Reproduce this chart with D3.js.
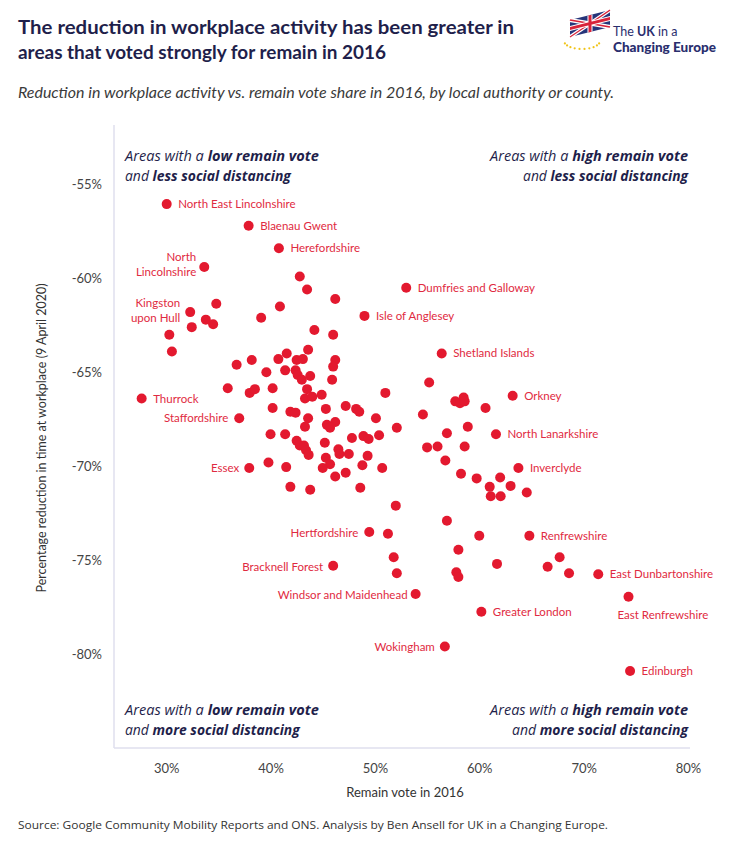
<!DOCTYPE html>
<html>
<head>
<meta charset="utf-8">
<script src="https://cdn.jsdelivr.net/npm/d3@7"></script>
<style>
  body { margin: 0; background: #fff; }
  svg { display: block; }
</style>
</head>
<body>
<div id="viz"></div>
<script>
// labelled areas: remain vote (%) and change in workplace time (%)
const labelNames = [
  "North East Lincolnshire", "Blaenau Gwent", "Herefordshire", "North Lincolnshire",
  "Dumfries and Galloway", "Isle of Anglesey", "Kingston upon Hull", "Shetland Islands",
  "Thurrock", "Orkney", "Staffordshire", "North Lanarkshire", "Essex", "Inverclyde",
  "Hertfordshire", "Renfrewshire", "Bracknell Forest", "East Dunbartonshire",
  "Windsor and Maidenhead", "East Renfrewshire", "Greater London", "Wokingham", "Edinburgh"
];
const labelRemain = [
  30.05, 37.9, 40.8, 33.65, 53.0, 49.0, 32.3, 56.4, 27.65, 63.2, 37.0, 61.6,
  37.96, 63.75, 49.46, 64.8, 46.0, 71.4, 53.9, 74.3, 60.2, 56.7, 74.45
];
const labelChange = [
  -56.05, -57.2, -58.4, -59.4, -60.5, -62.0, -61.8, -64.0, -66.4, -66.25, -67.45, -68.3,
  -70.1, -70.1, -73.5, -73.7, -75.3, -75.75, -76.8, -76.95, -77.75, -79.6, -80.9
];

// other areas (not labelled)
const otherRemain = [
  42.8, 43.5, 46.2, 34.8, 40.9, 39.1, 33.8, 34.5, 32.45, 30.3, 44.2, 46.0, 30.55, 41.55,
  43.6, 38.2, 40.75, 42.5, 43.1, 46.2, 46.0, 36.75, 39.6, 41.4, 42.4, 42.6, 43.0, 43.8,
  45.9, 35.9, 38.0, 38.5, 40.2, 43.5, 43.3, 44.0, 44.9, 51.0, 40.2, 41.9, 42.4, 43.6,
  43.3, 45.3, 47.2, 48.2, 48.5, 50.1, 52.1, 45.4, 46.2, 45.7, 40.0, 41.4, 42.5, 42.8,
  43.2, 43.4, 43.65, 45.2, 47.8, 48.9, 49.4, 50.4, 46.5, 46.6, 47.5, 49.3, 45.3, 45.7,
  45.0, 48.8, 50.7, 39.8, 41.5, 46.2, 47.2, 41.9, 43.8, 48.6, 52.0, 55.2, 57.7, 58.15,
  58.5, 58.6, 60.6, 54.6, 58.9, 56.9, 55.0, 56.0, 58.6, 56.75, 58.25, 59.75, 62.0, 61.0,
  63.0, 61.1, 62.05, 64.55, 56.9, 60.0, 58.0, 61.7, 57.8, 58.0, 67.7, 66.55, 68.6, 51.25,
  51.8, 52.1
];
const otherChange = [
  -59.9, -60.6, -61.1, -61.35, -61.5, -62.1, -62.2, -62.45, -62.6, -63.0, -62.75, -63.0, -63.9, -64.0,
  -63.8, -64.35, -64.3, -64.35, -64.3, -64.35, -64.7, -64.6, -65.0, -64.9, -64.9, -65.15, -65.4, -65.2,
  -65.4, -65.85, -66.1, -65.9, -65.85, -65.9, -66.4, -66.3, -66.2, -66.1, -66.9, -67.1, -67.15, -67.45,
  -67.9, -66.95, -66.8, -66.95, -67.1, -67.45, -67.95, -67.8, -67.65, -67.95, -68.3, -68.3, -68.65, -68.9,
  -68.9, -69.15, -69.4, -68.75, -68.5, -68.4, -68.55, -68.35, -69.1, -69.35, -69.35, -69.45, -69.55, -69.9,
  -70.1, -69.95, -70.1, -69.8, -70.05, -70.55, -70.35, -71.1, -71.25, -71.15, -72.1, -65.55, -66.55, -66.65,
  -66.35, -66.55, -66.9, -67.25, -67.9, -68.25, -69.0, -68.95, -68.95, -69.7, -70.4, -70.65, -70.6, -71.1,
  -71.05, -71.6, -71.6, -71.4, -72.9, -73.7, -74.45, -75.2, -75.65, -75.9, -74.85, -75.35, -75.7, -73.6,
  -74.85, -75.7
];

const xTicks = [30, 40, 50, 60, 70, 80];
const yTicks = [-55, -60, -65, -70, -75, -80];

const config = {
  width: 734,
  height: 850,
  left: 114,
  right: 688,
  top: 128,
  bottom: 748,
  dotR: 5,
  red: "#e3192f",
  labelRed: "#df2a41",
  navy: "#1f1f4b",
  axisColor: "#dfdfee",
  tickColor: "#444",
};

// where each label sits relative to its dot: [dx, dy, anchor]
const labelPlacement = {
  "North Lincolnshire": [-8, 0, "end"],
  "Kingston upon Hull": [-10, 0, "end"],
  "Staffordshire": [-11, 4, "end"],
  "Essex": [-10, 4, "end"],
  "Hertfordshire": [-11, 5, "end"],
  "Bracknell Forest": [-10, 5, "end"],
  "Windsor and Maidenhead": [-8, 5, "end"],
  "Wokingham": [-10, 4, "end"],
  "East Renfrewshire": [-11, 22, "start"],
};
const multiLine = {
  "North Lincolnshire": [["North", -6], ["Lincolnshire", 9]],
  "Kingston upon Hull": [["Kingston", -5], ["upon Hull", 10]],
};

const svg = d3
  .select("#viz")
  .append("svg")
  .attr("width", config.width)
  .attr("height", config.height)
  .style("font-family", "Lato, 'Open Sans', sans-serif");

const fit = (sel, w) => {
  sel.attr("textLength", w).attr("lengthAdjust", "spacingAndGlyphs");
  return sel;
};

// title + subtitle
fit(
  svg.append("text").attr("x", 18).attr("y", 34)
    .attr("font-size", 19.5).attr("font-weight", 700).attr("fill", config.navy)
    .text("The reduction in workplace activity has been greater in"),
  496
);
fit(
  svg.append("text").attr("x", 18).attr("y", 59)
    .attr("font-size", 19.5).attr("font-weight", 700).attr("fill", config.navy)
    .text("areas that voted strongly for remain in 2016"),
  368
);
fit(
  svg.append("text").attr("x", 18).attr("y", 98)
    .attr("font-size", 15).attr("font-style", "italic").attr("fill", "#3a3a3a")
    .text("Reduction in workplace activity vs. remain vote share in 2016, by local authority or county."),
  596
);

// logo
const logo = svg.append("g").attr("transform", "translate(566,14)");
const flag = logo.append("g").attr("transform", "translate(4,6) skewY(-14)");
flag.append("rect").attr("width", 40).attr("height", 17).attr("fill", "#26357a");
flag.append("path").attr("d", "M0,0L40,17M40,0L0,17").attr("stroke", "#fff").attr("stroke-width", 4);
flag.append("path").attr("d", "M0,0L40,17M40,0L0,17").attr("stroke", "#d8233a").attr("stroke-width", 1.5);
flag.append("path").attr("d", "M20,0V17M0,8.5H40").attr("stroke", "#fff").attr("stroke-width", 5);
flag.append("path").attr("d", "M20,0V17M0,8.5H40").attr("stroke", "#d8233a").attr("stroke-width", 3);
d3.range(10).forEach((i) => {
  const a = Math.PI * (0.1 + (i / 9) * 0.8);
  logo.append("circle")
    .attr("cx", 16 + Math.cos(a) * 18)
    .attr("cy", 27 + Math.sin(a) * 8)
    .attr("r", 1.1)
    .attr("fill", "#f0c419");
});
const logoText = logo.append("text").attr("x", 47).attr("y", 22)
  .attr("font-size", 12.5).attr("fill", "#2a2e6e");
logoText.append("tspan").text("The ");
logoText.append("tspan").attr("font-weight", 700).text("UK");
logoText.append("tspan").text(" in a");
fit(
  logo.append("text").attr("x", 47).attr("y", 38)
    .attr("font-size", 13).attr("font-weight", 900).attr("fill", "#2a2e6e")
    .text("Changing Europe"),
  103
);

// scales
const x = d3.scaleLinear().domain([25, 80]).range([config.left, config.right]);
const y = d3.scaleLinear().domain([-85, -52]).range([config.bottom, config.top]);

// axes
const yAxis = svg.append("g")
  .attr("transform", `translate(${config.left},0)`)
  .call(d3.axisLeft(y).tickValues(yTicks).tickSize(0).tickSizeOuter(0).tickPadding(12)
    .tickFormat((d) => d + "%"));
const xAxis = svg.append("g")
  .attr("transform", `translate(0,${config.bottom})`)
  .call(d3.axisBottom(x).tickValues(xTicks).tickSize(0).tickSizeOuter(0).tickPadding(16)
    .tickFormat((d) => d + "%"));
[xAxis, yAxis].forEach((g) => {
  g.select(".domain").attr("stroke", config.axisColor).attr("stroke-width", 1.5);
  g.selectAll("text").attr("font-family", "Lato, sans-serif").attr("font-size", 13)
    .attr("fill", config.tickColor);
});
yAxis.select(".domain").attr("d", `M0,125V${config.bottom}`);
xAxis.select(".domain").attr("d", `M${config.left},0H690`);

svg.append("text")
  .attr("x", 405).attr("y", 797)
  .attr("text-anchor", "middle").attr("font-size", 13).attr("fill", "#333")
  .text("Remain vote in 2016");
svg.append("text")
  .attr("transform", "translate(46,438) rotate(-90)")
  .attr("text-anchor", "middle").attr("font-size", 12.5).attr("fill", "#333")
  .text("Percentage reduction in time at workplace (9 April 2020)");

// quadrant notes: font size scaled so the line takes the same width as in the original
const quadrant = (xPos, yPos, anchor, parts, width) => {
  const t = svg.append("text").attr("x", xPos).attr("y", yPos)
    .attr("text-anchor", anchor).attr("font-size", 15).attr("font-style", "italic")
    .attr("font-family", "'Open Sans', sans-serif")
    .attr("fill", config.navy);
  parts.forEach(([s, bold]) => {
    t.append("tspan").attr("font-weight", bold ? 700 : 400).text(s);
  });
  const natural = t.node().getComputedTextLength();
  const size = Math.min(17, Math.max(13, (15 * width) / natural));
  t.attr("font-size", size);
  if (size === 17 || size === 13) fit(t, width);
};
quadrant(125, 161, "start", [["Areas with a ", false], ["low remain vote", true]], 194);
quadrant(125, 181, "start", [["and ", false], ["less social distancing", true]], 166);
quadrant(688, 161, "end", [["Areas with a ", false], ["high remain vote", true]], 198);
quadrant(688, 181, "end", [["and ", false], ["less social distancing", true]], 165);
quadrant(125, 715, "start", [["Areas with a ", false], ["low remain vote", true]], 194);
quadrant(125, 735, "start", [["and ", false], ["more social distancing", true]], 175);
quadrant(688, 715, "end", [["Areas with a ", false], ["high remain vote", true]], 198);
quadrant(688, 735, "end", [["and ", false], ["more social distancing", true]], 176);

// dots
const others = otherRemain.map((r, i) => ({ r, c: otherChange[i] }));
const labelled = labelNames.map((name, i) => ({ name, r: labelRemain[i], c: labelChange[i] }));

svg.append("g")
  .selectAll("circle")
  .data(others.concat(labelled))
  .join("circle")
  .attr("cx", (d) => x(d.r))
  .attr("cy", (d) => y(d.c))
  .attr("r", config.dotR)
  .attr("fill", config.red);

// labels
labelled.forEach((d) => {
  const [dx, dy, anchor] = labelPlacement[d.name] || [11.5, 4, "start"];
  const t = svg.append("text")
    .attr("x", x(d.r) + dx)
    .attr("y", y(d.c) + dy)
    .attr("text-anchor", anchor)
    .attr("font-size", 11.5)
    .attr("fill", config.labelRed);
  if (multiLine[d.name]) {
    multiLine[d.name].forEach(([s, off]) => {
      t.append("tspan").attr("x", x(d.r) + dx).attr("y", y(d.c) + off).text(s);
    });
  } else {
    t.text(d.name);
  }
});

// source
fit(
  svg.append("text").attr("x", 18).attr("y", 829)
    .attr("font-family", "'Open Sans', sans-serif").attr("font-size", 11.5).attr("fill", "#333")
    .text("Source: Google Community Mobility Reports and ONS. Analysis by Ben Ansell for UK in a Changing Europe."),
  590
);
</script>
</body>
</html>
